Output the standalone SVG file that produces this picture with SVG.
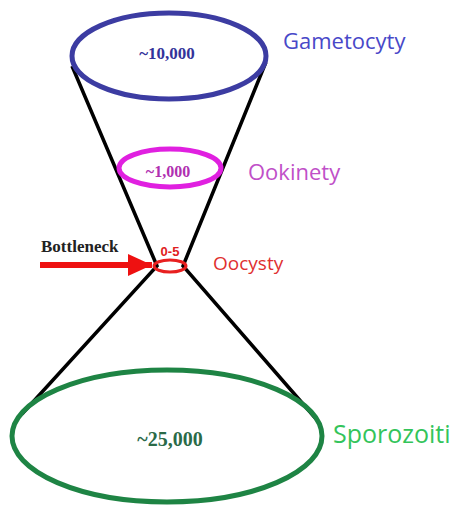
<svg xmlns="http://www.w3.org/2000/svg" width="461" height="507" viewBox="0 0 461 507">
<style>
.ring{fill:none}
.num{font-family:"Liberation Serif",serif;font-weight:bold;text-anchor:middle}
.lab{font-family:"Segoe UI","Open Sans","Noto Sans",sans-serif}
.cone{fill:none;stroke:#000;stroke-width:3.5}
</style>
<defs>
<marker id="ah" markerWidth="24" markerHeight="22" refX="24" refY="11" orient="auto" markerUnits="userSpaceOnUse"><path d="M0,0 L24,11 L0,22 Z" fill="#ee1111"/></marker>
</defs>
<rect width="461" height="507" fill="#fff"/>
<g id="connectors">
<path class="cone" d="M72,66 L157,266 L22,414"/>
<path class="cone" d="M266,62 L183,266 L317,420"/>
<line x1="40" y1="265" x2="152" y2="265" stroke="#ee1111" stroke-width="6" marker-end="url(#ah)"/>
</g>
<g id="gametocyty">
<ellipse class="ring" cx="169" cy="56" rx="97" ry="43" stroke="#3c3ca2" stroke-width="5"/>
<text class="num" x="167" y="59" font-size="17" fill="#33339a">~10,000</text>
<text class="lab" x="283" y="49" font-size="22" fill="#4848c8">Gametocyty</text>
</g>
<g id="ookinety">
<ellipse class="ring" cx="170" cy="168" rx="51" ry="19" stroke="#e020e0" stroke-width="5"/>
<text class="num" x="168" y="177" font-size="16" fill="#b030b0">~1,000</text>
<text class="lab" x="248" y="180" font-size="22" fill="#c050c8">Ookinety</text>
</g>
<g id="oocysty">
<ellipse class="ring" cx="170" cy="266" rx="16" ry="6" stroke="#e82020" stroke-width="3"/>
<text x="170" y="256" font-family="Liberation Sans,sans-serif" font-weight="bold" text-anchor="middle" font-size="13" fill="#e02020">0-5</text>
<text class="lab" x="213" y="270" font-size="19" fill="#e03030">Oocysty</text>
</g>
<g id="bottleneck">
<text x="41" y="252" font-family="Liberation Serif,serif" font-weight="bold" font-size="17" fill="#222">Bottleneck</text>
</g>
<g id="sporozoiti">
<ellipse class="ring" cx="167" cy="436" rx="155" ry="66" stroke="#1e8444" stroke-width="5"/>
<text class="num" x="170" y="446" font-size="20" fill="#2a6a48">~25,000</text>
<text class="lab" x="333" y="443" font-size="25" fill="#33c45a">Sporozoiti</text>
</g>
</svg>
